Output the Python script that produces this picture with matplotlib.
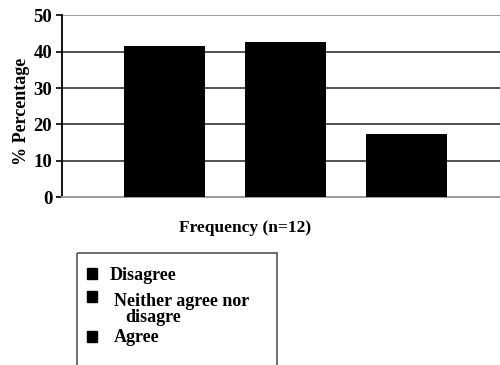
import numpy as np
import matplotlib
matplotlib.use("Agg")
import matplotlib.pyplot as plt
from matplotlib.patches import Rectangle

# data
categories = ["Disagree", "Neither agree nor\ndisagre", "Agree"]
percentages = [41.6, 42.6, 17.4]
yticks = [0, 10, 20, 30, 40, 50]

plt.rcParams['font.family'] = ['Liberation Serif', 'DejaVu Serif']
plt.rcParams['font.weight'] = 'bold'

W, H = 500, 365
fig = plt.figure(figsize=(W / 100, H / 100), dpi=100)

# main axes: left spine at x=62px, y=0 at 197px, y=50 at 15px
ax = fig.add_axes([62 / W, 1 - 197.3 / H, 1 - 62 / W, (197.3 - 15.3) / H])

x = np.arange(len(percentages))
for v in yticks[1:-1]:
    ax.axhline(v, color='#222222', lw=1.1, zorder=1)
ax.axhline(yticks[-1], color='#9a9a9a', lw=1.4, zorder=1)
ax.bar(x, percentages, width=0.67, color='black', zorder=3)

ax.set_xlim(-0.847, 2.773)
ax.set_ylim(0, 50)
ax.set_yticks(yticks)
ax.set_yticklabels([str(t) for t in yticks], fontsize=13.5, fontweight='bold')
ax.set_xticks([])
ax.tick_params(axis='y', length=4, width=1.2, pad=3, color='black')
for s in ['top', 'right']:
    ax.spines[s].set_visible(False)
ax.spines['left'].set_color('black')
ax.spines['left'].set_linewidth(1.3)
ax.spines['bottom'].set_color('#9a9a9a')
ax.spines['bottom'].set_linewidth(1.4)

fig.text(22 / W, 1 - 111 / H, "% Percentage", rotation=90, ha='center', va='center',
         fontsize=13, fontweight='bold')
fig.text(245 / W, 1 - 228 / H, "Frequency (n=12)", ha='center', va='center',
         fontsize=12.5, fontweight='bold')

# legend drawn in pixel coordinates on an overlay axes
lg = fig.add_axes([0, 0, 1, 1])
lg.set_xlim(0, W)
lg.set_ylim(H, 0)
lg.axis('off')
lg.add_patch(Rectangle((77, 253), 200, 120, fill=False, edgecolor='#555555', lw=1.2, clip_on=False))

square_y = [268, 291, 331]
text_x = [110, 114, 114]
text_y = [280, 306, 342]
for cat, sy, tx, ty in zip(categories, square_y, text_x, text_y):
    lg.add_patch(Rectangle((87, sy), 10, 11, color='black'))
    lines = cat.split("\n")
    lg.text(tx, ty, lines[0], fontsize=13, fontweight='bold', va='baseline', ha='left')
    if len(lines) > 1:
        # wrapped second line sits indented under the first
        lg.text(tx + 11, ty + 16, lines[1], fontsize=13, fontweight='bold',
                va='baseline', ha='left')

fig.savefig("out.png", dpi=100)
